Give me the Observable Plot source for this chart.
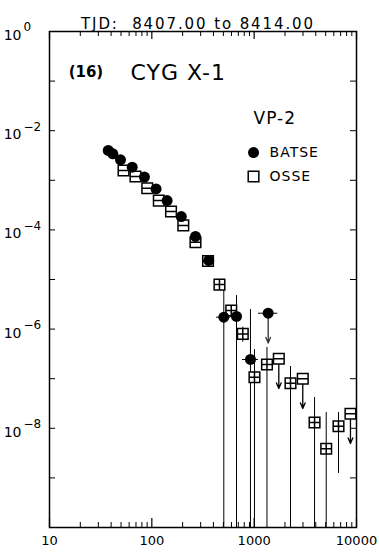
<!DOCTYPE html>
<html><head><meta charset="utf-8">
<script src="https://cdn.jsdelivr.net/npm/d3@7"></script>
<script src="https://cdn.jsdelivr.net/npm/@observablehq/plot@0.6"></script>
<style>body{margin:0;background:#fff}</style>
</head><body><div id="chart"></div>
<script>
// ---- data ----
const title = "TJD:\u00a0 8407.00 to 8414.00";
const panelLabel = "(16)";
const sourceName = "CYG X-1";
const vpLabel = "VP-2";
const seriesNames = ["BATSE", "OSSE"];

// BATSE (filled circles): energy (keV), flux
const batseE = [37.5, 41.6, 49.4, 64.3, 84.7, 110, 141, 194, 267, 360, 505, 672, 920, 1371];
const batseF = [4.0e-3, 3.42e-3, 2.59e-3, 1.84e-3, 1.16e-3, 6.7e-4, 3.9e-4, 1.86e-4, 7.4e-5, 2.42e-5, 1.74e-6, 1.80e-6, 2.44e-7, 2.09e-6];
const batseErrLo = [null, null, null, null, null, null, null, null, null, null, 1e-10, 1e-10, 1e-10, null];
const batseErrHi = [null, null, null, null, null, null, null, null, null, null, 6.3e-6, 4.75e-6, 2.48e-6, null];
const batseBinLo = [null, null, null, null, null, null, null, null, null, null, 428, 588, 769, 1101];
const batseBinHi = [null, null, null, null, null, null, null, null, null, null, 588, 769, 1101, 1702];
const batseUL = [0, 0, 0, 0, 0, 0, 0, 0, 0, 0, 0, 0, 0, 1];

// OSSE (open squares)
const osseE = [52.9, 69.2, 90.2, 117, 154, 203, 267, 354, 458, 597, 774, 1007, 1334, 1741, 2265, 2985, 3892, 5058, 6670, 8730];
const osseF = [1.58e-3, 1.19e-3, 6.9e-4, 3.9e-4, 2.35e-4, 1.23e-4, 5.65e-5, 2.36e-5, 7.9e-6, 2.37e-6, 8.0e-7, 1.07e-7, 1.93e-7, 2.52e-7, 8.1e-8, 9.95e-8, 1.31e-8, 3.86e-9, 1.10e-8, 1.96e-8];
const osseErrLo = [null, null, null, null, null, null, null, null, null, null, 5.44e-7, 1e-10, 1e-10, null, 1e-10, null, 1e-10, 1e-10, 1.23e-9, null];
const osseErrHi = [null, null, null, null, null, null, null, null, null, null, 1.09e-6, 3.88e-7, 4.26e-7, null, 1.76e-7, null, 4.18e-8, 2.08e-8, 2.08e-8, null];
const osseUL = [0, 0, 0, 0, 0, 0, 0, 0, 0, 0, 0, 0, 0, 1, 0, 1, 0, 0, 0, 1];

// axis ticks
const xMajor = [10, 100, 1000, 10000];
const xMinor = [20, 30, 40, 50, 60, 70, 80, 90, 200, 300, 400, 500, 600, 700, 800, 900, 2000, 3000, 4000, 5000, 6000, 7000, 8000, 9000];
const yTickExps = [0, -1, -2, -3, -4, -5, -6, -7, -8, -9, -10];
const yLabelExps = [0, -2, -4, -6, -8];

// ---- build tables ----
const batse = batseE.map((e, i) => ({e, f: batseF[i], lo: batseErrLo[i], hi: batseErrHi[i], b0: batseBinLo[i], b1: batseBinHi[i], ul: batseUL[i]}));
const osse = osseE.map((e, i) => ({e, f: osseF[i], lo: osseErrLo[i], hi: osseErrHi[i], ul: osseUL[i], idx: i}));

const W = 379, H = 554, ML = 49, MR = 23, MT = 31, MB = 27;
const PW = W - ML - MR, PH = H - MT - MB;
const arrowFactor = Math.pow(10, 0.6);

function sqSymbol(cross) {
  return {draw(ctx, size) {
    const h = Math.sqrt(size) / 2;
    ctx.moveTo(-h, -h); ctx.lineTo(h, -h); ctx.lineTo(h, h); ctx.lineTo(-h, h); ctx.closePath();
    ctx.moveTo(-h, 0); ctx.lineTo(h, 0);
    if (cross) { ctx.moveTo(0, -h); ctx.lineTo(0, h); }
  }};
}
const sqPlus = sqSymbol(true), sqMinus = sqSymbol(false);
const sqEmpty = {draw(ctx, size) { const h = Math.sqrt(size) / 2; ctx.rect(-h, -h, 2 * h, 2 * h); }};

// annotation anchor positions (data coordinates)
const panelPos = [{t: panelLabel, x: 22.7, y: 0.149}];
const startAnn = [
  {t: sourceName, x: 61.9, y: 0.149, size: 22},
  {t: vpLabel, x: 986, y: 0.0176, size: 17},
  {t: seriesNames[0], x: 1413, y: 3.63e-3, size: 14},
  {t: seriesNames[1], x: 1413, y: 1.19e-3, size: 14}
];
const legendDot = [{x: 986, y: 3.63e-3}];
const legendSq = [{x: 986, y: 1.19e-3}];

const svg = Plot.plot({
  width: W, height: H,
  marginLeft: ML, marginRight: MR, marginTop: MT, marginBottom: MB,
  x: {type: "log", domain: [10, 10000], axis: null},
  y: {type: "log", domain: [1e-10, 1], axis: null},
  style: {fontFamily: "DejaVu Sans, sans-serif", background: "white", color: "black", overflow: "visible"},
  marks: [
    // error bars
    Plot.ruleX(batse.filter(d => d.hi != null), {x: "e", y1: "lo", y2: "hi", stroke: "black", strokeWidth: 1}),
    Plot.ruleX(osse.filter(d => d.hi != null), {x: "e", y1: "lo", y2: "hi", stroke: "black", strokeWidth: 1}),
    Plot.ruleY(batse.filter(d => d.b0 != null), {y: "f", x1: "b0", x2: "b1", stroke: "black", strokeWidth: 1}),
    // upper-limit arrows
    Plot.arrow(batse.filter(d => d.ul), {x1: "e", x2: "e", y1: "f", y2: d => d.f / arrowFactor, stroke: "#333", strokeWidth: 1.3, headLength: 7, headAngle: 45}),
    Plot.arrow(osse.filter(d => d.ul), {x1: "e", x2: "e", y1: "f", y2: d => d.f / arrowFactor, stroke: "black", strokeWidth: 1.3, headLength: 7, headAngle: 45}),
    // squares
    Plot.dot(osse.filter(d => d.ul || d.idx < 8), {x: "e", y: "f", symbol: sqMinus, r: 6, fill: "white", stroke: "black", strokeWidth: 1.5}),
    Plot.dot(osse.filter(d => !d.ul && d.idx >= 8), {x: "e", y: "f", symbol: sqPlus, r: 6, fill: "white", stroke: "black", strokeWidth: 1.5}),
    // circles
    Plot.dot(batse, {x: "e", y: "f", r: 5.5, fill: "black"}),
    // frame
    Plot.frame({stroke: "black", strokeWidth: 1.5}),
    // ticks (inward)
    Plot.tickX(xMajor, {x: d => d, insetTop: PH - 9, stroke: "black", strokeWidth: 1.2}),
    Plot.tickX(xMinor, {x: d => d, insetTop: PH - 5, stroke: "black", strokeWidth: 1}),
    Plot.tickX(xMajor, {x: d => d, insetBottom: PH - 8, stroke: "black", strokeWidth: 1.2}),
    Plot.tickX(xMinor, {x: d => d, insetBottom: PH - 5, stroke: "black", strokeWidth: 1}),
    Plot.tickY(yTickExps, {y: e => Math.pow(10, e), insetRight: PW - 6, stroke: "black", strokeWidth: 1}),
    Plot.tickY(yTickExps, {y: e => Math.pow(10, e), insetLeft: PW - 6, stroke: "black", strokeWidth: 1}),
    // tick labels
    Plot.text(xMajor, {x: d => d, text: d => String(d), frameAnchor: "bottom", dy: 17, fontSize: 13}),
    Plot.text(yLabelExps, {y: e => Math.pow(10, e), text: () => "10", frameAnchor: "left", textAnchor: "end", dx: -28, dy: 4, fontSize: 14}),
    Plot.text(yLabelExps, {y: e => Math.pow(10, e), text: e => e === 0 ? "0" : "\u2212" + Math.abs(e), frameAnchor: "left", textAnchor: "start", dx: -26, dy: -4, fontSize: 12}),
    // title
    Plot.text([title], {frameAnchor: "top", dx: -5, dy: -13, fontSize: 15}),
    // annotations & legend
    Plot.text(panelPos, {x: "x", y: "y", text: "t", textAnchor: "middle", fontSize: 15, fontWeight: "bold"}),
    Plot.text(startAnn, {x: "x", y: "y", text: "t", textAnchor: "start", fontSize: d => d.size}),
    Plot.dot(legendDot, {x: "x", y: "y", r: 5.5, fill: "black"}),
    Plot.dot(legendSq, {x: "x", y: "y", symbol: sqEmpty, r: 6, fill: "white", stroke: "black", strokeWidth: 1.5})
  ]
});

d3.select(svg).selectAll("text").filter(function () { return this.textContent.startsWith("TJD"); })
  .style("letter-spacing", "1.9px");
d3.select(svg).selectAll("text").filter(function () { return ["VP-2", "BATSE", "OSSE", "CYG X-1"].includes(this.textContent); })
  .style("letter-spacing", "1px");

document.getElementById("chart").appendChild(svg);
</script>
</body></html>
